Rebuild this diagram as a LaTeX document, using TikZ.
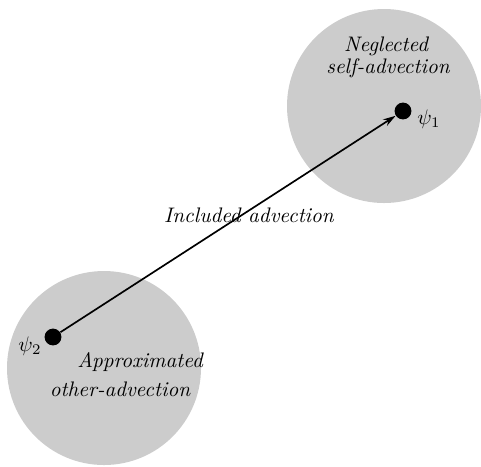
\documentclass[tikz,border=0pt]{standalone}
\usetikzlibrary{arrows.meta}
\begin{document}
\begin{tikzpicture}[x=0.475pt,y=-0.475pt,
  blob/.style={circle,fill=black!20,minimum size=194*0.475pt,inner sep=0pt},
  dot node/.style={circle,fill=black,minimum size=8pt,inner sep=0pt},
  text node/.style={font=\itshape,inner sep=0pt}]
  \useasboundingbox (0,0) rectangle (481,466);

  % shaded regions
  \node[blob] (b1) at (384,106){};
  \node[blob] (b2) at (104,368){};

  % the two points
  \node[dot node] (p1) at (403,111){};
  \node[dot node] (p2) at (53,337){};
  \node (l1) at (429,119){$\psi_1$};
  \node (l2) at (30,346){$\psi_2$};

  \node[text node] (t1) at (386,46){Neglected};
  \node[text node] (t2) at (388,68){self-advection};
  \node[text node] (t3) at (140,362){Approximated};
  \node[text node] (t4) at (120,389){other-advection};
  \node[text node] (t5) at (249,215){Included advection};

  \path[line width=0.8pt,-{Stealth[length=6pt,width=3.6pt]}]
     (p2) edge (p1);
\end{tikzpicture}
\end{document}
